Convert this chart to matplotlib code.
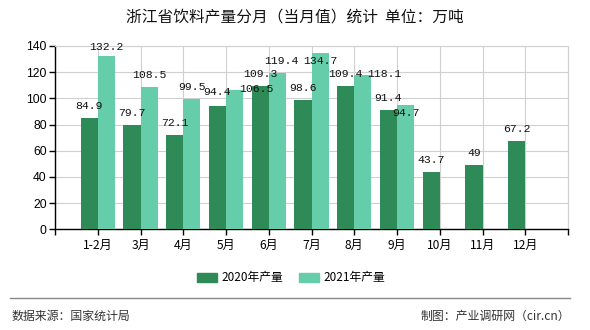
import matplotlib
matplotlib.use("Agg")
import matplotlib.pyplot as plt
from matplotlib.patches import Patch
import numpy as np

plt.rcParams['font.family'] = ['Noto Sans CJK SC', 'DejaVu Sans']

months = ["1-2月", "3月", "4月", "5月", "6月", "7月", "8月", "9月", "10月", "11月", "12月"]
prod_2020 = [84.9, 79.7, 72.1, 94.4, 109.3, 98.6, 109.4, 91.4, 43.7, 49, 67.2]
prod_2021 = [132.2, 108.5, 99.5, 106.5, 119.4, 134.7, 118.1, 94.7, None, None, None]
series_names = ["2020年产量", "2021年产量"]
y_ticks = [0, 20, 40, 60, 80, 100, 120, 140]

dark = "#2E8B57"
light = "#66CDAA"

fig = plt.figure(figsize=(5.9, 3.3), dpi=100)
ax = fig.add_axes([55 / 590, 1 - 229.3 / 330, 513 / 590, 183.3 / 330])

x = np.arange(1, len(months) + 1)
w = 0.4
ax.bar(x - w / 2, prod_2020, width=w, color=dark, zorder=3)
x21 = [xi for xi, v in zip(x, prod_2021) if v is not None]
v21 = [v for v in prod_2021 if v is not None]
ax.bar(np.array(x21) + w / 2, v21, width=w, color=light, zorder=3)

# label offsets in pixels (dx, dy above bar top); some labels nudged to avoid overlaps
off20 = {i: (0, 12) for i in range(len(months))}
off21 = {i: (0, 12) for i in range(len(prod_2021))}
off20[3] = (0, 14)
off21[0] = (0, 9)
off21[3] = (22, 1)
off21[4] = (4, 12)
off21[5] = (0, -8)
off21[6] = (22, 1)
off21[7] = (0, -8)

lbl_font = dict(family=['Liberation Mono', 'DejaVu Sans Mono'], fontsize=8.2, color="#111111")
for i, v in enumerate(prod_2020):
    dx, dy = off20[i]
    ax.annotate(f"{v:g}", (x[i] - w / 2, v), xytext=(dx * 0.72, dy * 0.72),
                textcoords="offset points", ha="center", va="center", zorder=5, **lbl_font)
for i, v in enumerate(prod_2021):
    if v is None:
        continue
    dx, dy = off21[i]
    ax.annotate(f"{v:g}", (x[i] + w / 2, v), xytext=(dx * 0.72, dy * 0.72),
                textcoords="offset points", ha="center", va="center", zorder=5, **lbl_font)

ax.set_xlim(0, 12)
ax.set_ylim(0, 140)
ax.set_xticks(np.arange(0, 13))
ax.set_xticklabels([""] + months + [""], fontsize=8.7)
ax.set_yticks(y_ticks)
ax.set_yticklabels([str(t) for t in y_ticks], fontsize=8.7, family=['Liberation Sans', 'DejaVu Sans'])
ax.grid(True, color="#d0d0d0", linewidth=0.8, zorder=0)
for s in ["top", "right"]:
    ax.spines[s].set_color("#d0d0d0")
    ax.spines[s].set_linewidth(0.8)
for s in ["left", "bottom"]:
    ax.spines[s].set_color("#000000")
    ax.spines[s].set_linewidth(1.0)
ax.tick_params(axis="both", length=4, width=1, color="#000000", pad=2)
ax.tick_params(axis="x", pad=3)

fig.text(0.5, 1 - 17 / 330, "浙江省饮料产量分月（当月值）统计  单位：万吨", ha="center", va="center",
         fontsize=11.3, color="#111111")

handles = [Patch(color=dark), Patch(color=light)]
fig.legend(handles, series_names, loc="center", bbox_to_anchor=(291 / 590, 1 - 278 / 330),
           ncol=2, frameon=False, fontsize=8.5, handlelength=1.7, handleheight=0.85,
           columnspacing=1.3, handletextpad=0.4)

fig.add_artist(plt.Line2D([10 / 590, 570 / 590], [1 - 298 / 330, 1 - 298 / 330],
                          color="#888888", linewidth=1.0, transform=fig.transFigure))
fig.text(12 / 590, 1 - 316 / 330, "数据来源：国家统计局", ha="left", va="center", fontsize=8.6, color="#333333")
fig.text(570 / 590, 1 - 316 / 330, "制图：产业调研网（cir.cn）", ha="right", va="center", fontsize=8.6, color="#333333")

fig.savefig("out.png", dpi=100)
